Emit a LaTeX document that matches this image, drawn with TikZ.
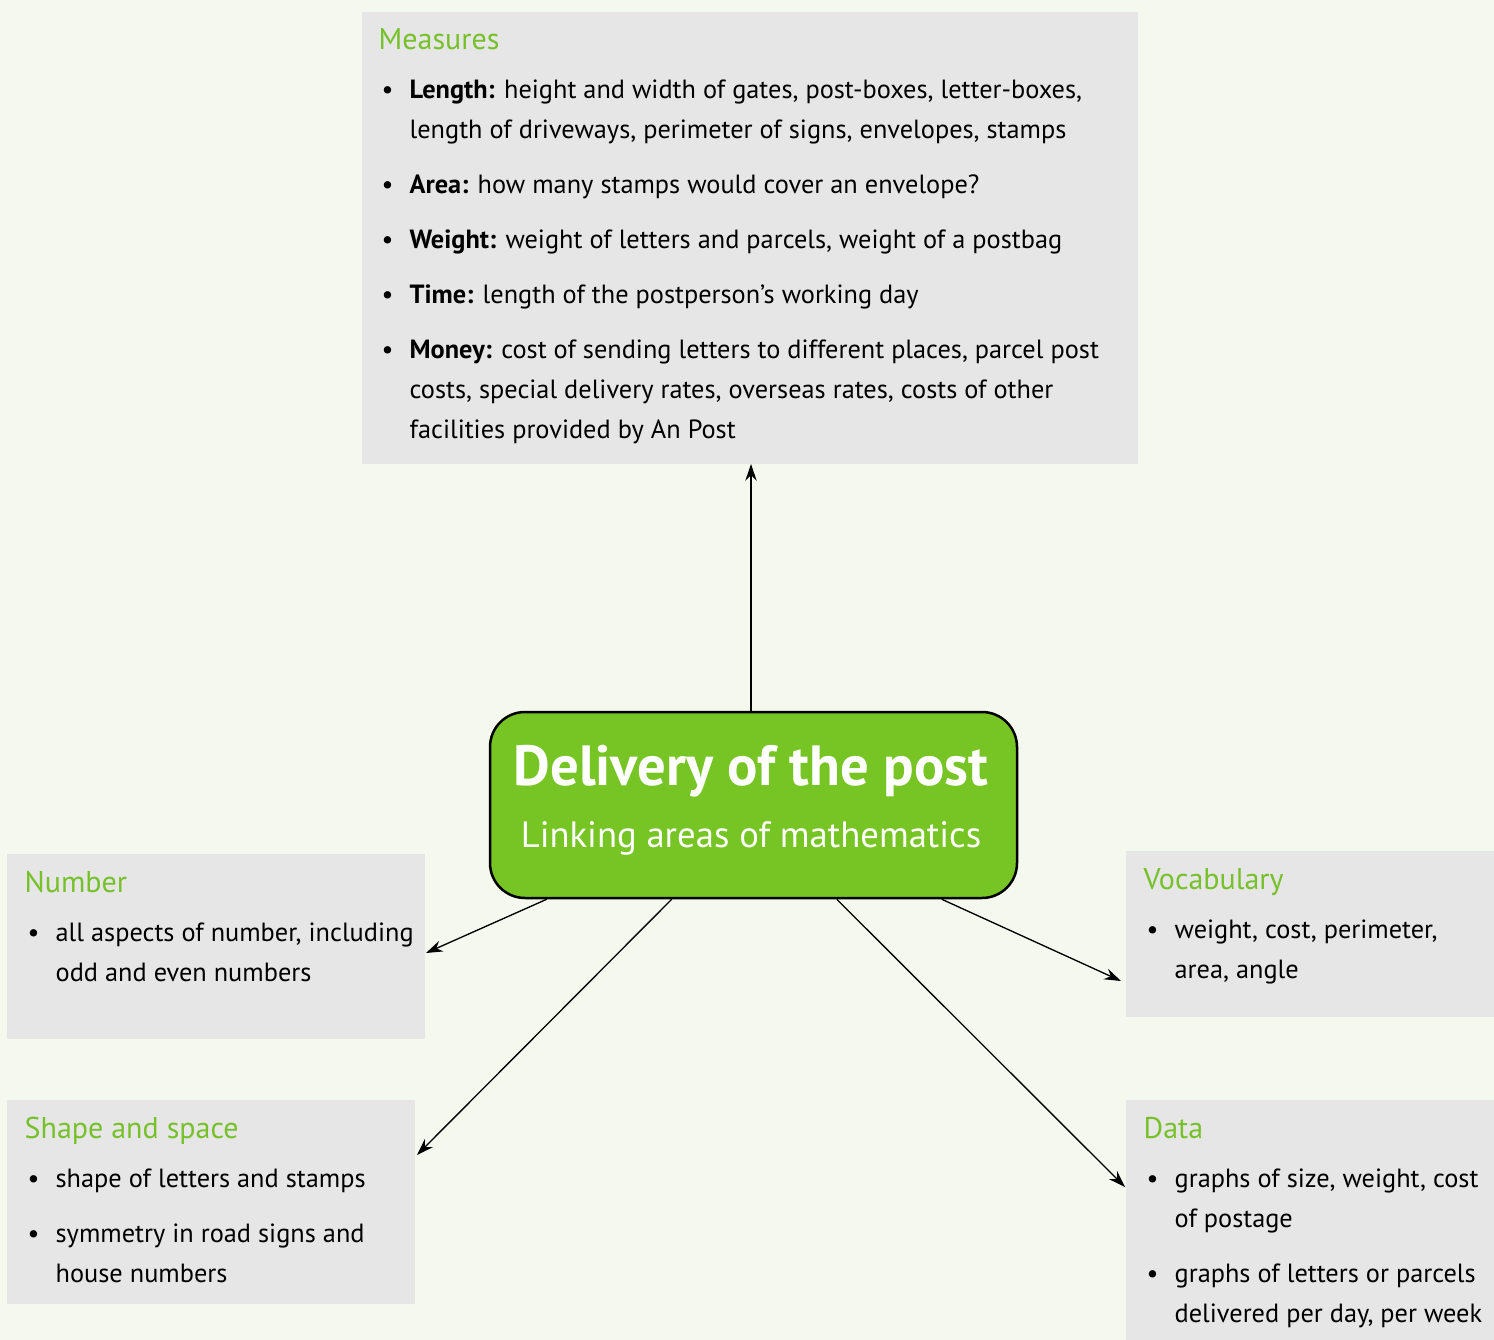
\documentclass[tikz,border=0pt]{standalone}
\usepackage{fontspec}
\setmainfont{PT Sans}
\usetikzlibrary{arrows.meta,calc}
\definecolor{bg}{HTML}{F5F8EE}
\definecolor{boxgray}{HTML}{E6E6E6}
\definecolor{hubgreen}{HTML}{77C425}
\definecolor{titlegreen}{HTML}{76C12A}
\newcommand\bodyfont{\fontsize{7.9pt}{12pt}\selectfont}
\newcommand\secttitle[1]{\noindent{\color{titlegreen}\fontsize{9pt}{12pt}\selectfont #1}\par\vspace{-1.8pt}}
\newcommand\bitem[1]{\par\noindent\hangindent=9.3pt\hangafter=1\makebox[9.3pt][l]{\hspace{0.9pt}\textbullet}#1}
\newcommand\boxcontent[2]{\parbox[t]{#1}{\bodyfont\raggedright\parskip=4.5pt #2}}
\tikzset{
  panel/.style={fill=boxgray, draw=none},
  paneltext/.style={anchor=base west, inner sep=0pt, align=left},
  hub/.style={fill=hubgreen, draw=black, line width=0.75pt, rounded corners=10.5pt},
  arr/.style={-{Stealth[length=5pt,width=3.4pt]}, line width=0.4pt, black},
}
\begin{document}
\begin{tikzpicture}[x=0.3pt,y=-0.3pt]
\useasboundingbox[fill=bg] (0,0) rectangle (1494,1340);
% panels
\path[panel] (362,12) rectangle (1138,464);
\path[panel] (7,854) rectangle (425,1039);
\path[panel] (1126,851) rectangle (1494,1017);
\path[panel] (7,1100) rectangle (415,1304);
\path[panel] (1126,1100) rectangle (1494,1340);
\coordinate (measures) at (751,464);
\coordinate (number) at (426,953);
\coordinate (vocab) at (1121,981);
\coordinate (shape) at (417,1155);
\coordinate (data) at (1125,1187);
% hub
\node[hub, minimum width=527*0.3pt, minimum height=186*0.3pt, inner sep=0pt] (hub) at (753.5,805) {};
\node[anchor=base, inner sep=0pt, text=white, font=\fontsize{17pt}{20pt}\selectfont\bfseries] (hubtitle) at (751,785) {Delivery of the post};
\node[anchor=base, inner sep=0pt, text=white, font=\fontsize{11pt}{14pt}\selectfont] (hubsub) at (751,847) {Linking areas of mathematics};
% texts
\node[paneltext] (measurestext) at (378,50) {\boxcontent{240pt}{%
\secttitle{Measures}
\bitem{\textbf{Length:} height and width of gates, post-boxes, letter-boxes,\newline length of driveways, perimeter of signs, envelopes, stamps}
\bitem{\textbf{Area:} how many stamps would cover an envelope?}
\bitem{\textbf{Weight:} weight of letters and parcels, weight of a postbag}
\bitem{\textbf{Time:} length of the postperson’s working day}
\bitem{\textbf{Money:} cost of sending letters to different places, parcel post\newline costs, special delivery rates, overseas rates, costs of other\newline facilities provided by An Post}}};
\node[paneltext] (numbertext) at (24,892) {\boxcontent{130pt}{%
\secttitle{Number}
\bitem{all aspects of number, including\newline odd and even numbers}}};
\node[paneltext] (vocabtext) at (1143,889) {\boxcontent{110pt}{%
\secttitle{Vocabulary}
\bitem{weight, cost, perimeter,\newline area, angle}}};
\node[paneltext] (shapetext) at (24,1138) {\boxcontent{130pt}{%
\secttitle{Shape and space}
\bitem{shape of letters and stamps}
\bitem{symmetry in road signs and\newline house numbers}}};
\node[paneltext] (datatext) at (1143,1138) {\boxcontent{110pt}{%
\secttitle{Data}
\bitem{graphs of size, weight, cost\newline of postage}
\bitem{graphs of letters or parcels\newline delivered per day, per week}}};
% connectors
\draw[arr] ($(hub.north)+(-2.5,0)$) -- (measures);
\draw[arr] ($(hub.south west)+(58,0)$) -- (number);
\draw[arr] ($(hub.south west)+(183,0)$) -- (shape);
\draw[arr] ($(hub.south west)+(348,0)$) -- (data);
\draw[arr] ($(hub.south west)+(453,0)$) -- (vocab);
\end{tikzpicture}
\end{document}
